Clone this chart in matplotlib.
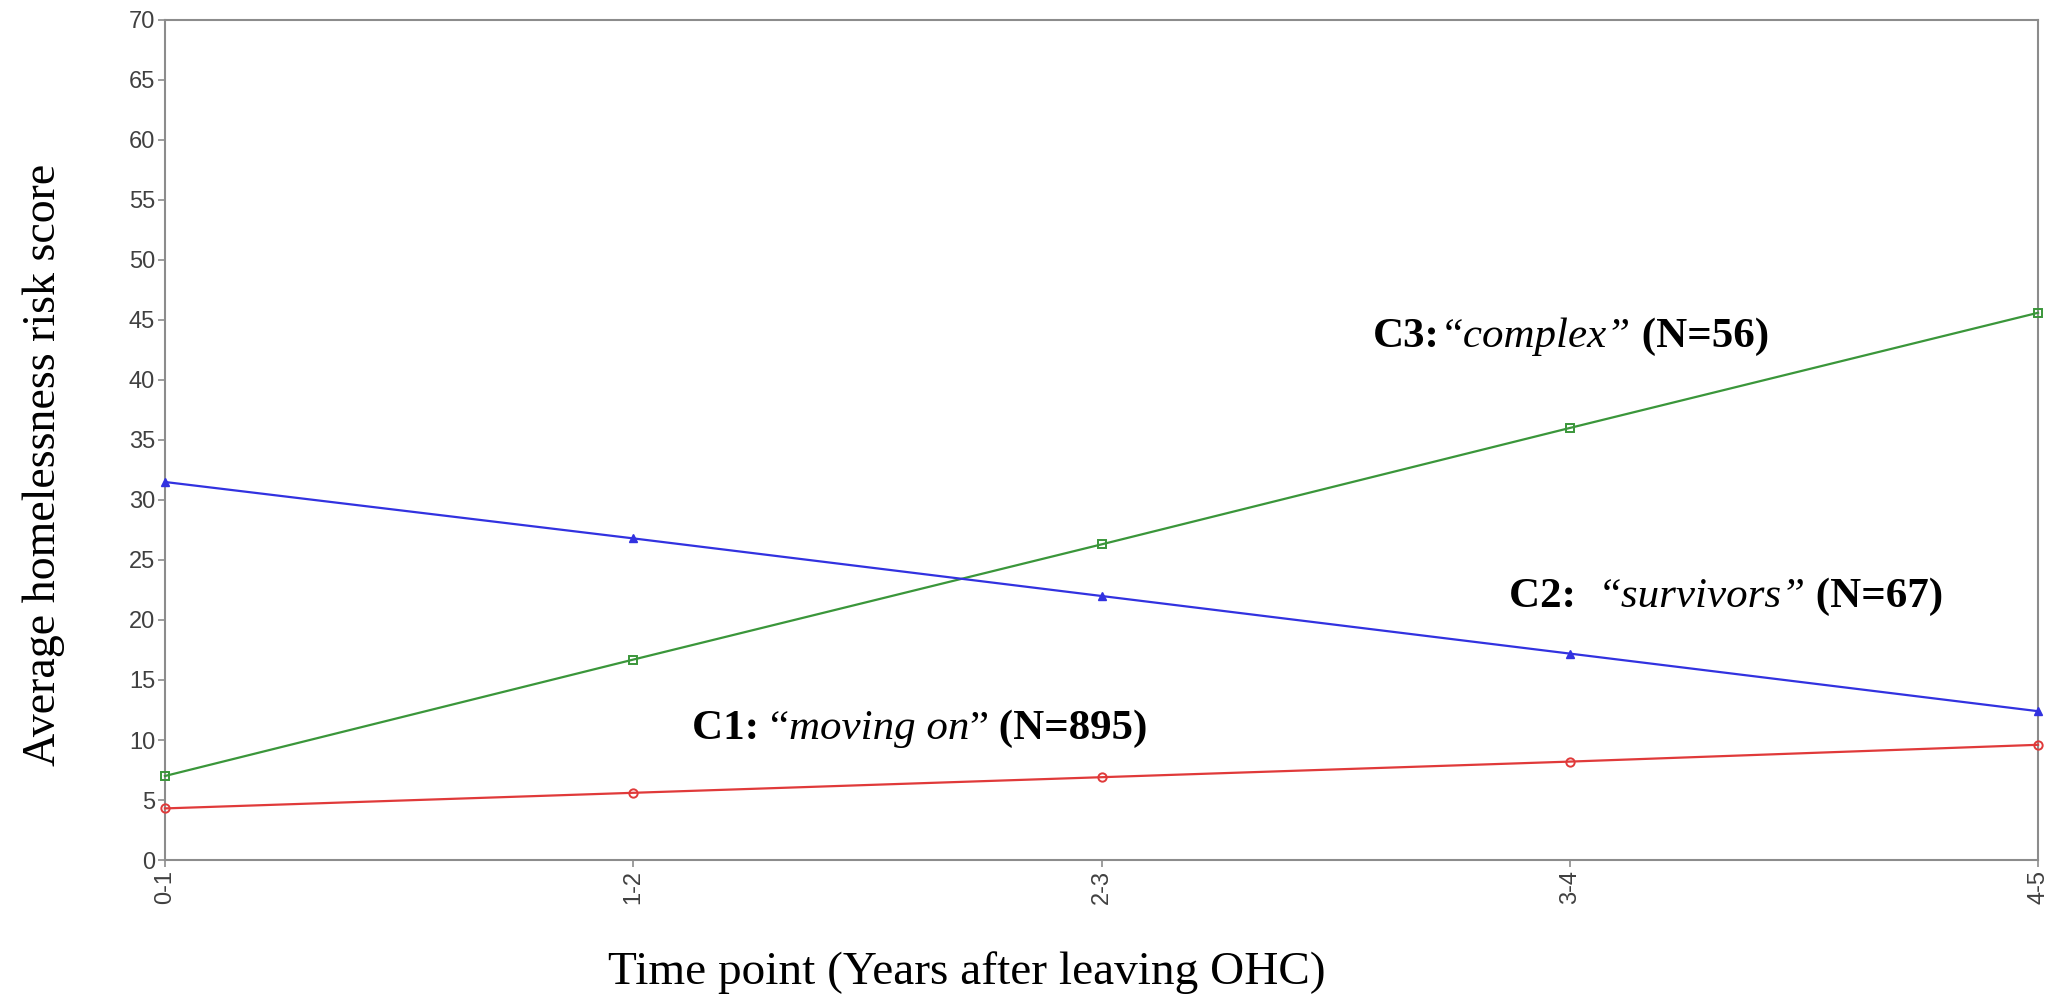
import matplotlib
matplotlib.use('Agg')
import matplotlib.pyplot as plt

time_points = ["0-1", "1-2", "2-3", "3-4", "4-5"]
c1_moving_on = [4.3, 5.6, 6.9, 8.2, 9.6]
c2_survivors = [31.5, 26.8, 22.0, 17.2, 12.4]
c3_complex = [7.0, 16.7, 26.3, 36.0, 45.6]

fig = plt.figure(figsize=(20.67, 9.97), dpi=100)
ax = fig.add_axes([0.0798, 0.1374, 0.9062, 0.8426])

x = list(range(len(time_points)))
ax.plot(x, c1_moving_on, color="#e03a3a", lw=1.6, marker="o", ms=6,
        mfc="none", mew=1.4, clip_on=False, zorder=3)
ax.plot(x, c3_complex, color="#3a963a", lw=1.6, marker="s", ms=6,
        mfc="none", mew=1.4, clip_on=False, zorder=3)
ax.plot(x, c2_survivors, color="#3232e0", lw=1.6, marker="^", ms=6,
        clip_on=False, zorder=3)

ax.set_xlim(0, 4)
ax.set_ylim(0, 70)
ax.set_yticks(range(0, 71, 5))
ax.set_xticks(x)
ax.set_xticklabels(time_points, rotation=90)

for s in ax.spines.values():
    s.set_color("#8c8c8c")
    s.set_linewidth(1.5)
ax.tick_params(axis="both", direction="out", length=5, width=1.2, color="#8c8c8c",
               labelsize=17, labelcolor="#404040", pad=2)
for lab in ax.get_xticklabels() + ax.get_yticklabels():
    lab.set_family("Liberation Sans")

ax.set_ylabel("Average homelessness risk score", family="Liberation Serif",
              fontsize=33)
ax.yaxis.set_label_coords(-0.0535, 0.47)
ax.set_xlabel("Time point (Years after leaving OHC)", family="Liberation Serif",
              fontsize=34)
ax.xaxis.set_label_coords(0.428, -0.108)

# annotations built from pieces with mixed weight/style
renderer = fig.canvas.get_renderer()


def rich_text(xd, yd, pieces, size=31):
    px, py = ax.transData.transform((xd, yd))
    for txt, weight, style in pieces:
        t = fig.text(px / fig.bbox.width, py / fig.bbox.height, txt,
                     family="Liberation Serif", fontsize=size, weight=weight,
                     style=style, va="center", ha="left")
        w = t.get_window_extent(renderer).width
        px += w


rich_text(2.58, 43.6, [("C3:", "bold", "normal"),
                       ("\u201ccomplex\u201d", "normal", "italic"),
                       (" (N=56)", "bold", "normal")])
rich_text(2.87, 21.9, [("C2:  ", "bold", "normal"),
                       ("\u201csurvivors\u201d", "normal", "italic"),
                       (" (N=67)", "bold", "normal")])
rich_text(1.126, 10.9, [("C1: ", "bold", "normal"),
                        ("\u201c", "normal", "normal"),
                        ("moving on", "normal", "italic"),
                        ("\u201d", "normal", "normal"),
                        (" (N=895)", "bold", "normal")])

fig.savefig("out.png", dpi=100)
